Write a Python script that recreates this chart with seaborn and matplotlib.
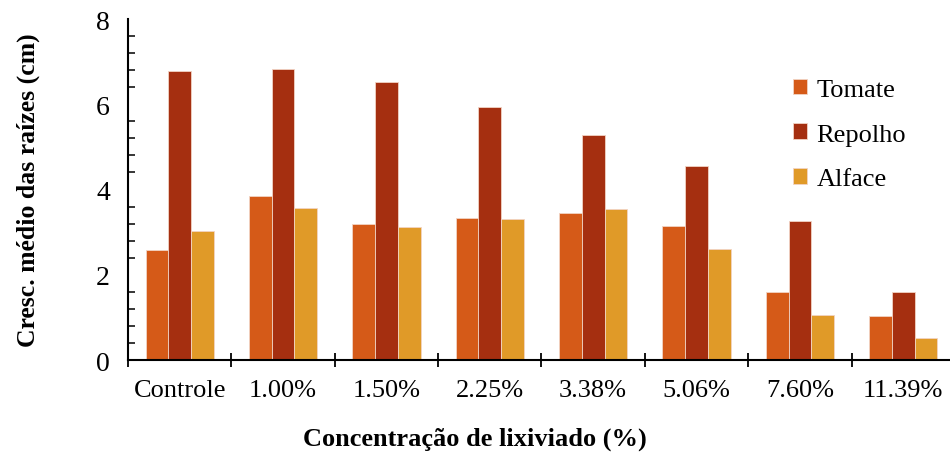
import numpy as np
import pandas as pd
import matplotlib
matplotlib.use("Agg")
import matplotlib.pyplot as plt
import seaborn as sns
from matplotlib.ticker import MultipleLocator, FixedLocator

categories = ["Controle", "1.00%", "1.50%", "2.25%", "3.38%", "5.06%", "7.60%", "11.39%"]
tomate = [2.58, 3.85, 3.19, 3.33, 3.44, 3.15, 1.60, 1.03]
repolho = [6.78, 6.83, 6.53, 5.94, 5.28, 4.55, 3.26, 1.59]
alface = [3.02, 3.57, 3.12, 3.31, 3.54, 2.60, 1.06, 0.51]
series = ["Tomate", "Repolho", "Alface"]
colors = ["#D55A18", "#A52F10", "#E09A28"]

df = pd.DataFrame({"Concentração": categories, "Tomate": tomate,
                   "Repolho": repolho, "Alface": alface})
long_df = df.melt(id_vars="Concentração", var_name="Espécie", value_name="Crescimento")

sns.set_style("white")
plt.rcParams["font.family"] = ["Liberation Serif", "DejaVu Serif"]
plt.rcParams["text.color"] = "black"
plt.rcParams["xtick.color"] = "black"
plt.rcParams["ytick.color"] = "black"
plt.rcParams["axes.labelcolor"] = "black"

fig = plt.figure(figsize=(9.5, 4.6), dpi=100)
ax = fig.add_axes([0.1347, 0.2152, 0.8705, 0.7413])

sns.barplot(data=long_df, x="Concentração", y="Crescimento", hue="Espécie",
            hue_order=series, palette=colors, saturation=1, width=0.66,
            edgecolor="#f2d4c4", linewidth=0.6, ax=ax)

ax.set_ylim(0, 8)
ax.set_xlim(-0.5, 7.5)
ax.yaxis.set_major_locator(MultipleLocator(2))
ax.yaxis.set_minor_locator(MultipleLocator(0.4))
ax.tick_params(axis="y", which="major", direction="inout", length=10, width=1.3,
               labelsize=20, pad=8)
ax.tick_params(axis="y", which="minor", direction="in", length=5, width=1.1, left=True)

ax.xaxis.set_minor_locator(FixedLocator(np.arange(-0.5, 8.0, 1.0)))
ax.tick_params(axis="x", which="major", length=0, labelsize=19, pad=14)
ax.tick_params(axis="x", which="minor", direction="inout", length=10, width=1.3, bottom=True)

for side in ["top", "right"]:
    ax.spines[side].set_visible(False)
for side in ["left", "bottom"]:
    ax.spines[side].set_color("black")
    ax.spines[side].set_linewidth(1.5)

ax.set_ylabel("Cresc. médio das raízes (cm)", fontsize=18.5, fontweight="bold", labelpad=40)
ax.set_xlabel("Concentração de lixiviado (%)", fontsize=19, fontweight="bold")
# x label is centred on the figure, not on the axes
ax.xaxis.set_label_coords(0.42, -0.195)

ax.legend(title=None, frameon=False, fontsize=19, loc="upper left",
          bbox_to_anchor=(0.775, 0.895), handlelength=0.55, handleheight=0.55,
          handletextpad=0.35, labelspacing=0.85)

fig.savefig("out.png", dpi=100)
